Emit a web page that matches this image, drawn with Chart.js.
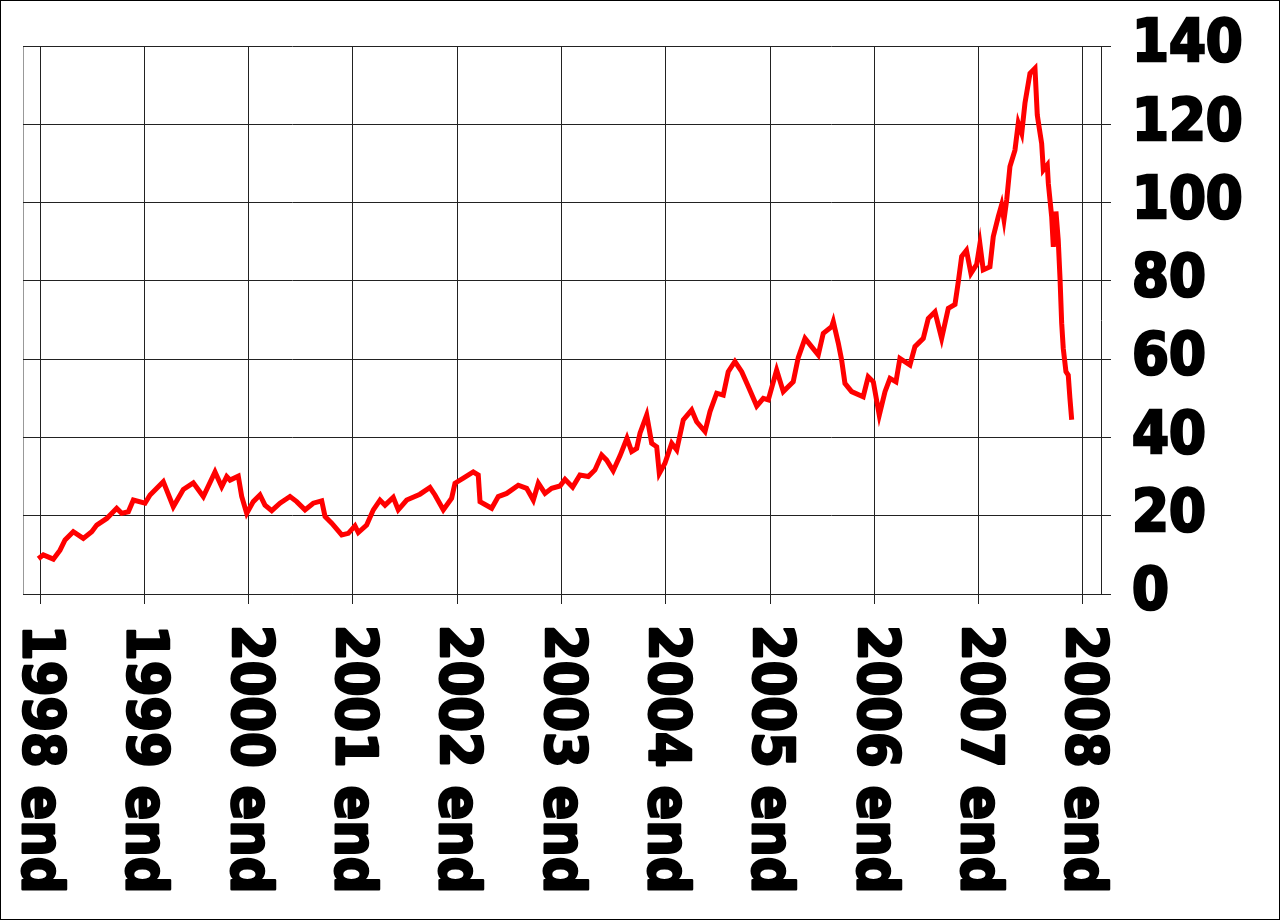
<!DOCTYPE html>
<html>
<head>
<meta charset="utf-8">
<script src="https://cdn.jsdelivr.net/npm/chart.js@4"></script>
<style>
  html, body { margin: 0; padding: 0; background: #fff; }
  canvas { display: block; }
</style>
</head>
<body>
<canvas id="oil-chart" width="1280" height="920"></canvas>
<script>
// decimal year (1999.0 = "1998 end") and price
const dates = [
    1998.984, 1999.032, 1999.128, 1999.192, 1999.240, 1999.319, 1999.415, 1999.496, 1999.544, 1999.640,
    1999.735, 1999.783, 1999.847, 1999.895, 2000.007, 2000.055, 2000.182, 2000.278, 2000.374, 2000.470,
    2000.566, 2000.678, 2000.742, 2000.790, 2000.822, 2000.901, 2000.934, 2000.982, 2001.045, 2001.109,
    2001.157, 2001.222, 2001.301, 2001.397, 2001.461, 2001.541, 2001.620, 2001.701, 2001.733, 2001.797,
    2001.893, 2001.956, 2002.020, 2002.052, 2002.132, 2002.196, 2002.260, 2002.308, 2002.387, 2002.435,
    2002.516, 2002.643, 2002.739, 2002.787, 2002.867, 2002.947, 2002.979, 2003.059, 2003.154, 2003.202,
    2003.219, 2003.331, 2003.394, 2003.475, 2003.586, 2003.666, 2003.730, 2003.778, 2003.842, 2003.906,
    2003.986, 2004.034, 2004.107, 2004.177, 2004.257, 2004.321, 2004.385, 2004.433, 2004.496, 2004.561,
    2004.628, 2004.673, 2004.721, 2004.753, 2004.817, 2004.865, 2004.913, 2004.938, 2004.992, 2005.057,
    2005.105, 2005.168, 2005.248, 2005.296, 2005.376, 2005.424, 2005.488, 2005.551, 2005.599, 2005.663,
    2005.728, 2005.791, 2005.872, 2005.935, 2005.983, 2006.063, 2006.127, 2006.222, 2006.270, 2006.335,
    2006.398, 2006.462, 2006.510, 2006.590, 2006.606, 2006.654, 2006.686, 2006.718, 2006.782, 2006.893,
    2006.941, 2006.990, 2007.047, 2007.102, 2007.150, 2007.207, 2007.245, 2007.341, 2007.389, 2007.469,
    2007.517, 2007.581, 2007.645, 2007.709, 2007.773, 2007.805, 2007.837, 2007.883, 2007.926, 2007.981,
    2008.012, 2008.044, 2008.108, 2008.140, 2008.188, 2008.220, 2008.243, 2008.269, 2008.300, 2008.348,
    2008.380, 2008.413, 2008.444, 2008.492, 2008.540, 2008.562, 2008.581, 2008.604, 2008.620, 2008.658,
    2008.668, 2008.700, 2008.716, 2008.741, 2008.763, 2008.780, 2008.796, 2008.811, 2008.837, 2008.859,
    2008.875, 2008.892
];
const prices = [
    9.0, 10.0, 8.9, 11.2, 13.8, 15.9, 14.2, 15.9, 17.6, 19.3,
    21.9, 20.6, 21.0, 24.0, 23.2, 25.3, 28.7, 22.3, 26.7, 28.4,
    24.9, 31.2, 27.4, 30.0, 29.1, 30.1, 24.9, 20.6, 23.6, 25.3,
    22.7, 21.3, 23.2, 24.9, 23.6, 21.5, 23.2, 23.8, 19.8, 18.1,
    15.1, 15.5, 17.4, 15.7, 17.6, 21.5, 24.0, 22.7, 24.7, 21.5,
    24.0, 25.5, 27.2, 25.3, 21.5, 24.5, 28.3, 29.6, 31.2, 30.4,
    23.6, 21.9, 24.9, 25.7, 27.8, 27.0, 24.0, 28.3, 25.7, 27.0,
    27.6, 29.3, 27.3, 30.4, 30.0, 31.7, 35.5, 34.2, 31.5, 35.3,
    39.8, 36.4, 37.2, 41.1, 45.7, 38.5, 37.6, 30.8, 33.4, 38.5,
    36.8, 44.5, 47.0, 44.0, 41.5, 46.6, 51.3, 50.8, 56.8, 59.4,
    56.8, 53.0, 48.0, 50.0, 49.6, 57.2, 51.7, 54.2, 60.4, 65.3,
    63.2, 61.1, 66.6, 68.3, 69.6, 64.1, 59.8, 53.8, 51.7, 50.4,
    55.5, 54.2, 45.7, 51.7, 55.1, 54.2, 60.2, 58.5, 63.2, 65.3,
    70.4, 72.1, 65.3, 73.0, 74.0, 79.8, 86.2, 87.8, 81.9, 84.2,
    89.4, 82.8, 83.6, 91.3, 96.4, 99.4, 95.6, 100.7, 109.2, 113.4,
    120.3, 117.7, 125.4, 133.0, 134.3, 122.4, 119.0, 115.1, 108.3, 109.6,
    104.9, 96.4, 88.7, 97.7, 90.4, 80.7, 69.2, 62.8, 56.8, 55.9,
    50.0, 44.5
];
const tickYears = [1999, 2000, 2001, 2002, 2003, 2004, 2005, 2006, 2007, 2008, 2009];
const tickLabels = ["1998 end", "1999 end", "2000 end", "2001 end", "2002 end", "2003 end",
    "2004 end", "2005 end", "2006 end", "2007 end", "2008 end"];

const fontFamily = "'DejaVu Sans Condensed', 'DejaVu Sans', sans-serif";
const gridColor = "#222";

// x labels read top-to-bottom, starting just below the axis
const verticalLabels = {
    id: "verticalLabels",
    afterDraw(chart) {
        const ctx = chart.ctx;
        const xScale = chart.scales.x;
        ctx.save();
        ctx.font = "bold 57px " + fontFamily;
        ctx.fillStyle = "#000";
        ctx.strokeStyle = "#000";
        ctx.lineWidth = 2.5;
        ctx.lineJoin = "round";
        ctx.textAlign = "left";
        ctx.textBaseline = "middle";
        tickYears.forEach((year, i) => {
            const x = xScale.getPixelForValue(year);
            ctx.save();
            ctx.translate(x - 2, xScale.top + 31);
            ctx.rotate(Math.PI / 2);
            ctx.fillText(tickLabels[i], 0, 0);
            ctx.strokeText(tickLabels[i], 0, 0);
            ctx.restore();
        });
        ctx.restore();
    }
};

const frame = {
    id: "frame",
    beforeDraw(chart) {
        const ctx = chart.ctx;
        const area = chart.chartArea;
        ctx.save();
        ctx.fillStyle = "#fff";
        ctx.fillRect(0, 0, chart.width, chart.height);
        ctx.strokeStyle = "#000";
        ctx.lineWidth = 1;
        ctx.strokeRect(0.5, 0.5, chart.width - 1, chart.height - 1);
        ctx.strokeStyle = "#999";
        ctx.beginPath();
        ctx.moveTo(Math.round(area.left) + 0.5, area.top);
        ctx.lineTo(Math.round(area.left) + 0.5, area.bottom);
        ctx.stroke();
        ctx.restore();
    }
};

new Chart(document.getElementById("oil-chart"), {
    type: "line",
    data: {
        datasets: [{
            data: dates.map((d, i) => ({ x: d, y: prices[i] })),
            borderColor: "#ff0000",
            borderWidth: 5,
            pointRadius: 0,
            tension: 0,
            fill: false
        }]
    },
    options: {
        responsive: false,
        animation: false,
        layout: { padding: { top: 46, left: 23, right: 0, bottom: 0 } },
        plugins: {
            legend: { display: false },
            tooltip: { enabled: false }
        },
        scales: {
            x: {
                type: "linear",
                min: 1998.837,
                max: 2009.173,
                afterBuildTicks: scale => { scale.ticks = tickYears.map(v => ({ value: v })); },
                afterFit: scale => {
                    scale.height = 326;
                    scale.paddingLeft = 0;
                    scale.paddingRight = 0;
                },
                ticks: { display: false },
                grid: { color: gridColor, lineWidth: 1, tickLength: 10 },
                border: { color: gridColor }
            },
            y: {
                position: "right",
                min: 0,
                max: 140,
                afterFit: scale => {
                    scale.width = 179;
                    scale.paddingTop = 0;
                    scale.paddingBottom = 0;
                },
                ticks: {
                    stepSize: 20,
                    padding: 21,
                    color: "#000",
                    textStrokeColor: "#000",
                    textStrokeWidth: 2.5,
                    font: { family: fontFamily, size: 59, weight: "bold" }
                },
                grid: { color: gridColor, lineWidth: 1, tickLength: 10 },
                border: { color: gridColor }
            }
        }
    },
    plugins: [frame, verticalLabels]
});
</script>
</body>
</html>
